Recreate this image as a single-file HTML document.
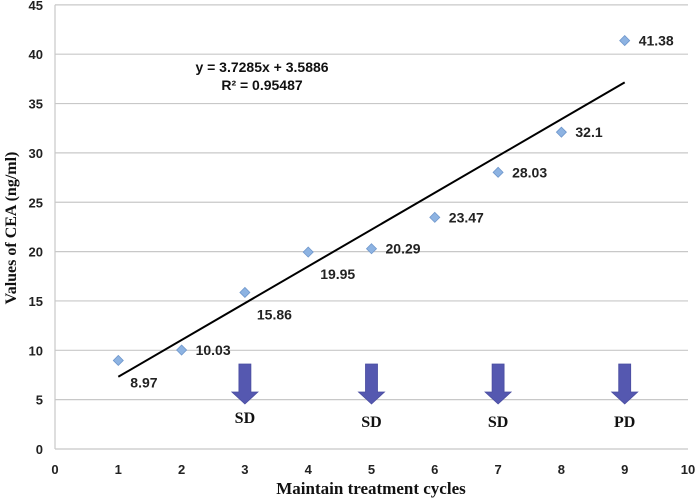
<!DOCTYPE html>
<html><head><meta charset="utf-8"><style>body{margin:0;background:#fff}svg{display:block}</style></head>
<body>
<svg id="c" width="700" height="503" xmlns="http://www.w3.org/2000/svg"></svg>
<script>
const cycles=[1,2,3,4,5,6,7,8,9];
const ceaValues=[8.97,10.03,15.86,19.95,20.29,23.47,28.03,32.1,41.38];
const valueLabels=["8.97","10.03","15.86","19.95","20.29","23.47","28.03","32.1","41.38"];
const yTicks=[0,5,10,15,20,25,30,35,40,45];
const xTicks=[0,1,2,3,4,5,6,7,8,9,10];
const slope=3.7285, intercept=3.5886;
const statusCycles=[3,5,7,9];
const statusLabels=["SD","SD","SD","PD"];
const svg=document.getElementById('c');const NS='http://www.w3.org/2000/svg';
const X=v=>55+v*63.3, Y=v=>449-v*9.87;
function mk(t,a,txt){const e=document.createElementNS(NS,t);for(const k in a)e.setAttribute(k,a[k]);if(txt!=null)e.textContent=txt;svg.appendChild(e);return e;}
yTicks.forEach(t=>{
 const g=mk('line',{x1:X(0),x2:X(10),y1:Y(t),y2:Y(t),stroke:'#c8c8c8','stroke-width':1.2});
 
 
 const l=mk('text',{x:X(0)-12,y:Y(t)+5,'text-anchor':'end','font-family':'Liberation Sans, sans-serif','font-size':13,'font-weight':'bold',fill:'#222'},t);
 
 
});
const ax=mk('line',{x1:X(0),x2:X(0),y1:Y(0),y2:Y(45),stroke:'#c8c8c8','stroke-width':1.2});


xTicks.forEach(t=>{
 const l=mk('text',{x:X(t),y:474,'text-anchor':'middle','font-family':'Liberation Sans, sans-serif','font-size':13,'font-weight':'bold',fill:'#222'},t);
 
 
});
const tl=mk('line',{x1:X(1),y1:Y(slope+intercept),x2:X(9),y2:Y(slope*9+intercept),stroke:'#000','stroke-width':2});


cycles.forEach((c,i)=>{
 const x=X(c),y=Y(ceaValues[i]);
 const p=mk('polygon',{points:`${x},${y-5} ${x+5},${y} ${x},${y+5} ${x-5},${y}`,fill:'#8db3e2',stroke:'#6f97cc','stroke-width':0.8});
 
 
 const below=(i===0||i===2||i===3);
 const l=mk('text',{x:below?x+12:x+14,y:below?y+27:y+5,'font-family':'Liberation Sans, sans-serif','font-size':14,'font-weight':'bold',fill:'#222'},valueLabels[i]);
 
 
});
statusCycles.forEach((c,i)=>{
 const x=X(c);
 const a=mk('polygon',{points:`${x-6},364 ${x+6},364 ${x+6},392 ${x+13},392 ${x},404 ${x-13},392 ${x-6},392`,fill:'#5558b0',stroke:'#4a4da0','stroke-width':0.8});
 
 
 const l=mk('text',{x:x,y:i==0?423:427,'text-anchor':'middle','font-family':'Liberation Serif, serif','font-size':16,'font-weight':'bold',fill:'#111'},statusLabels[i]);
 
 
});
const e1=mk('text',{x:262,y:72,'text-anchor':'middle','font-family':'Liberation Sans, sans-serif','font-size':14,'font-weight':'bold',fill:'#111'},'y = 3.7285x + 3.5886');


const e2=mk('text',{x:262,y:90,'text-anchor':'middle','font-family':'Liberation Sans, sans-serif','font-size':14,'font-weight':'bold',fill:'#111'},'R² = 0.95487');


const xt=mk('text',{x:371,y:494,'text-anchor':'middle','font-family':'Liberation Serif, serif','font-size':17,'font-weight':'bold',fill:'#111'},'Maintain treatment cycles');


const yt=mk('text',{x:0,y:0,transform:'translate(16,228) rotate(-90)','text-anchor':'middle','font-family':'Liberation Serif, serif','font-size':16,'font-weight':'bold',fill:'#111'},'Values of CEA (ng/ml)');


</script>
</body></html>
